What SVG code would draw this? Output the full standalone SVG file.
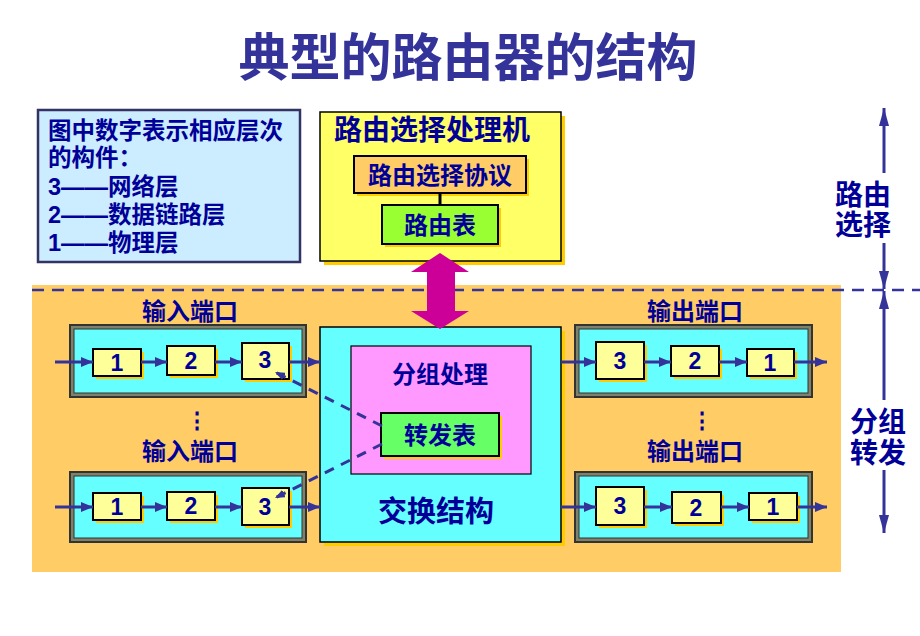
<svg xmlns="http://www.w3.org/2000/svg" width="920" height="636" viewBox="0 0 920 636">
<defs>
<style>
.t{font-family:"Liberation Sans","Noto Sans CJK SC",sans-serif;font-weight:bold;fill:#000099;}
.c{text-anchor:middle;dominant-baseline:central;}
.box{fill:#FFFF99;stroke:#000;stroke-width:2;}
.sh{fill:#FFCC00;}
.pf{fill:#7E8268;stroke:#333;stroke-width:2;}
.pi{fill:#66FFFF;stroke:#333;stroke-width:1;}
.ar{stroke:#333399;stroke-width:3;fill:none;marker-end:url(#ah);}
.da{stroke:#333399;stroke-width:3;fill:none;stroke-dasharray:10 8;marker-end:url(#ah2);}
.va{stroke:#333399;stroke-width:3;fill:none;marker-end:url(#ahv);}
</style>
<marker id="ah" viewBox="0 0 12 10" refX="12" refY="5" markerWidth="12" markerHeight="10" markerUnits="userSpaceOnUse" orient="auto"><path d="M0,0 L12,5 L0,10 z" fill="#333399"/></marker>
<marker id="ah2" viewBox="0 0 10 8" refX="10" refY="4" markerWidth="10" markerHeight="8" markerUnits="userSpaceOnUse" orient="auto"><path d="M0,0 L10,4 L0,8 z" fill="#333399"/></marker>
<marker id="ahv" viewBox="0 0 18 10" refX="18" refY="5" markerWidth="18" markerHeight="10" markerUnits="userSpaceOnUse" orient="auto"><path d="M0,0 L18,5 L0,10 z" fill="#333399"/></marker>
</defs>
<rect width="920" height="636" fill="#fff"/>

<g id="title"><text class="t c" x="468" y="58" style="font-size:51px;fill:#333399">典型的路由器的结构</text></g>

<g id="background"><rect x="32" y="285" width="809" height="287" fill="#FFCC66"/></g>

<g id="legend">
<rect x="38" y="110" width="262" height="152" fill="#CCECFF" stroke="#333366" stroke-width="2.5"/>
<text class="t" x="48" y="139" style="font-size:23.5px">图中数字表示相应层次</text>
<text class="t" x="48" y="166" style="font-size:23.5px">的构件：</text>
<text class="t" x="48" y="195" style="font-size:23.5px">3——网络层</text>
<text class="t" x="48" y="223" style="font-size:23.5px">2——数据链路层</text>
<text class="t" x="48" y="251" style="font-size:23.5px">1——物理层</text>
</g>

<g id="routing-processor">
<rect x="324" y="116" width="241" height="149" class="sh"/>
<rect x="320" y="112" width="241" height="149" fill="#FFFF66" stroke="#000" stroke-width="1.5"/>
<text class="t" x="334" y="140" style="font-size:28px;dominant-baseline:central" dy="-10">路由选择处理机</text>
</g>
<g id="routing-protocol">
<rect x="357" y="159" width="172" height="37" class="sh"/>
<rect x="354" y="156" width="172" height="37" fill="#FFCC66" stroke="#000" stroke-width="2"/>
<text class="t c" x="440" y="175" style="font-size:24px">路由选择协议</text>
</g>
<g id="routing-table">
<rect x="385" y="208" width="116" height="39" class="sh"/>
<rect x="382" y="205" width="116" height="39" fill="#99FF33" stroke="#000" stroke-width="2"/>
<text class="t c" x="440" y="225" style="font-size:24px">路由表</text>
</g>

<g id="switch-fabric">
<rect x="324" y="331" width="241" height="215" class="sh"/>
<rect x="320" y="327" width="241" height="215" fill="#66FFFF" stroke="#000" stroke-width="1.5"/>
<text class="t c" x="436" y="512" style="font-size:29px">交换结构</text>
</g>
<g id="packet-processing">
<rect x="351" y="346" width="180" height="128" fill="#FF99FF" stroke="#000" stroke-width="1.2"/>
<text class="t c" x="440" y="374" style="font-size:24px">分组处理</text>
</g>
<g id="forwarding-table">
<rect x="384" y="416" width="118" height="43" class="sh"/>
<rect x="381" y="413" width="118" height="43" fill="#66FF66" stroke="#000" stroke-width="2"/>
<text class="t c" x="440" y="435" style="font-size:24px">转发表</text>
</g>

<g id="input-port-1">
<text class="t c" x="190" y="311" style="font-size:24px">输入端口</text>
<rect x="70" y="325" width="236" height="72" class="pf"/>
<rect x="74" y="329" width="228" height="64" class="pi"/>
<rect x="96" y="352" width="48" height="27" class="sh"/><rect x="93" y="349" width="48" height="27" class="box"/><text class="t c" x="117" y="363" style="font-size:23px">1</text>
<rect x="170" y="349" width="48" height="29" class="sh"/><rect x="167" y="346" width="48" height="29" class="box"/><text class="t c" x="191" y="361" style="font-size:23px">2</text>
<rect x="245" y="346" width="47" height="36" class="sh"/><rect x="242" y="343" width="47" height="36" class="box"/><text class="t c" x="265" y="360" style="font-size:23px">3</text>
</g>
<g id="input-port-2">
<text class="t c" x="197" y="420" style="font-size:22px">⋮</text>
<text class="t c" x="190" y="451" style="font-size:24px">输入端口</text>
<rect x="70" y="472" width="236" height="70" class="pf"/>
<rect x="74" y="476" width="228" height="62" class="pi"/>
<rect x="96" y="496" width="48" height="27" class="sh"/><rect x="93" y="493" width="48" height="27" class="box"/><text class="t c" x="117" y="507" style="font-size:23px">1</text>
<rect x="170" y="495" width="48" height="28" class="sh"/><rect x="167" y="492" width="48" height="28" class="box"/><text class="t c" x="191" y="506" style="font-size:23px">2</text>
<rect x="245" y="491" width="47" height="37" class="sh"/><rect x="242" y="488" width="47" height="37" class="box"/><text class="t c" x="265" y="507" style="font-size:23px">3</text>
</g>

<g id="output-port-1">
<text class="t c" x="695" y="311" style="font-size:24px">输出端口</text>
<rect x="575" y="325" width="237" height="72" class="pf"/>
<rect x="579" y="329" width="229" height="64" class="pi"/>
<rect x="599" y="345" width="48" height="37" class="sh"/><rect x="596" y="342" width="48" height="37" class="box"/><text class="t c" x="620" y="361" style="font-size:23px">3</text>
<rect x="674" y="349" width="48" height="30" class="sh"/><rect x="671" y="346" width="48" height="30" class="box"/><text class="t c" x="695" y="361" style="font-size:23px">2</text>
<rect x="750" y="352" width="47" height="27" class="sh"/><rect x="747" y="349" width="47" height="27" class="box"/><text class="t c" x="770" y="363" style="font-size:23px">1</text>
</g>
<g id="output-port-2">
<text class="t c" x="702" y="420" style="font-size:22px">⋮</text>
<text class="t c" x="695" y="451" style="font-size:24px">输出端口</text>
<rect x="575" y="472" width="237" height="70" class="pf"/>
<rect x="579" y="476" width="229" height="62" class="pi"/>
<rect x="599" y="490" width="48" height="38" class="sh"/><rect x="596" y="487" width="48" height="38" class="box"/><text class="t c" x="620" y="506" style="font-size:23px">3</text>
<rect x="675" y="495" width="49" height="31" class="sh"/><rect x="672" y="492" width="49" height="31" class="box"/><text class="t c" x="696" y="508" style="font-size:23px">2</text>
<rect x="752" y="496" width="48" height="27" class="sh"/><rect x="749" y="493" width="48" height="27" class="box"/><text class="t c" x="773" y="507" style="font-size:23px">1</text>
</g>

<g id="side-labels">
<text class="t c" x="863" y="195" style="font-size:28px">路由</text>
<text class="t c" x="863" y="225" style="font-size:28px">选择</text>
<text class="t c" x="878" y="422" style="font-size:28px">分组</text>
<text class="t c" x="878" y="453" style="font-size:28px">转发</text>
</g>

<g id="connectors">
<line x1="32" y1="290" x2="920" y2="290" stroke="#333399" stroke-width="2.5" stroke-dasharray="12 8"/>
<line x1="440" y1="193" x2="440" y2="205" stroke="#000" stroke-width="3"/>
<polygon points="440,253 469,272 455,272 455,311 469,311 440,329 411,311 427,311 427,272 411,272" fill="#CC0099"/>
<line class="ar" x1="55" y1="362" x2="93" y2="362"/>
<line class="ar" x1="141" y1="362" x2="167" y2="362"/>
<line class="ar" x1="215" y1="362" x2="242" y2="362"/>
<line class="ar" x1="289" y1="362" x2="320" y2="362"/>
<line class="ar" x1="55" y1="507" x2="93" y2="507"/>
<line class="ar" x1="141" y1="507" x2="167" y2="507"/>
<line class="ar" x1="215" y1="507" x2="242" y2="507"/>
<line class="ar" x1="289" y1="507" x2="320" y2="507"/>
<line class="ar" x1="561" y1="362" x2="596" y2="362"/>
<line class="ar" x1="644" y1="362" x2="671" y2="362"/>
<line class="ar" x1="719" y1="362" x2="747" y2="362"/>
<line class="ar" x1="794" y1="362" x2="827" y2="362"/>
<line class="ar" x1="561" y1="507" x2="596" y2="507"/>
<line class="ar" x1="644" y1="507" x2="672" y2="507"/>
<line class="ar" x1="721" y1="507" x2="749" y2="507"/>
<line class="ar" x1="797" y1="507" x2="827" y2="507"/>
<line class="da" x1="382" y1="426" x2="275" y2="372"/>
<line class="da" x1="382" y1="444" x2="275" y2="498"/>
<line class="va" x1="884" y1="173" x2="884" y2="108"/>
<line class="va" x1="884" y1="243" x2="884" y2="289"/>
<line class="va" x1="884" y1="400" x2="884" y2="291"/>
<line class="va" x1="884" y1="470" x2="884" y2="533"/>
</g>
</svg>
